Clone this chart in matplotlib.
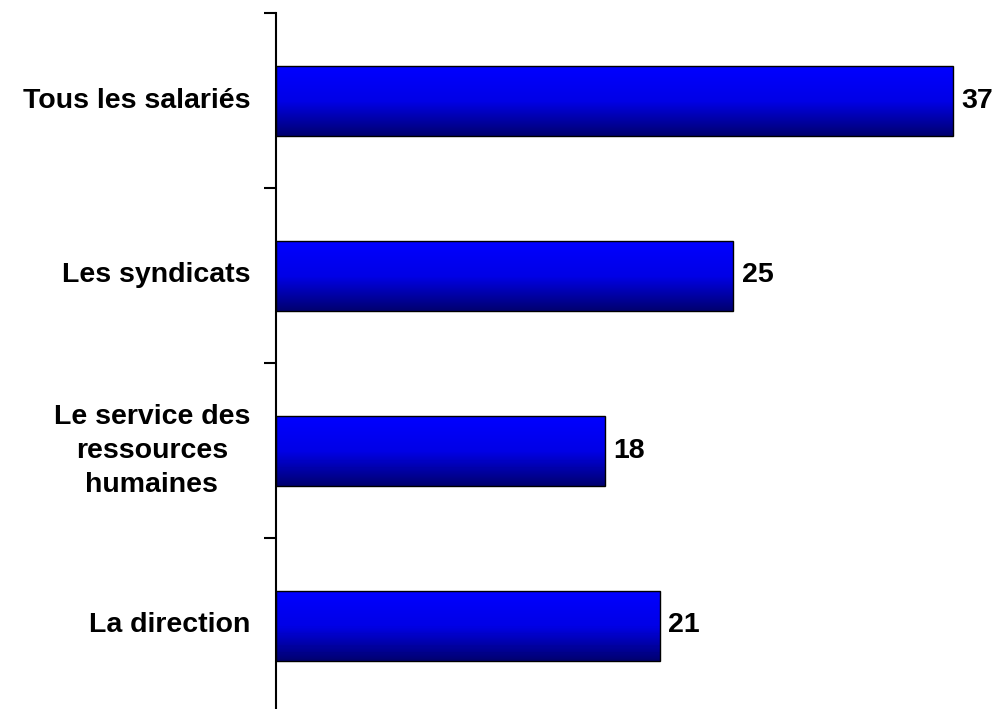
import matplotlib
matplotlib.use("Agg")
import matplotlib.pyplot as plt
import numpy as np
from matplotlib.colors import LinearSegmentedColormap

categories = ["Tous les salariés", "Les syndicats", "Le service des\nressources\nhumaines", "La direction"]
values = [37, 25, 18, 21]

plt.rcParams["font.family"] = ["Liberation Sans", "DejaVu Sans"]

W, H = 996, 709
fig = plt.figure(figsize=(W / 100, H / 100), dpi=100)
ax = fig.add_axes([276 / W, -4 / H, 720 / W, 700 / H])

# vertical gradient: bright blue on top, navy at the bottom
cmap = LinearSegmentedColormap.from_list("bar", ["#0000ff", "#0000e6", "#000070"])
n_strips = 70

ypos = np.arange(len(categories))
bar_h = 0.4
for y, v in zip(ypos, values):
    y0 = y - bar_h / 2
    for i in range(n_strips):
        ax.barh(y0 + i * bar_h / n_strips, v, height=bar_h / n_strips * 1.05, align="edge",
                color=cmap(i / (n_strips - 1)), linewidth=0, antialiased=False, zorder=2)
    ax.text(v + 0.45, y, str(v), va="center", ha="left", fontsize=20.5, fontweight="bold")

ax.barh(ypos, values, height=bar_h, color="none", edgecolor="black", linewidth=1, zorder=3)

ax.set_xlim(0, 720 / (677 / 37))
ax.set_ylim(3.5, -0.5)

for s in ["top", "right", "bottom"]:
    ax.spines[s].set_visible(False)
ax.spines["left"].set_linewidth(1.5)
ax.spines["left"].set_zorder(4)
ax.set_xticks([])
ax.set_yticks([])
ax.set_yticks(np.arange(-0.5, 4.0, 1.0), minor=True)
ax.tick_params(axis="y", which="minor", direction="out", length=9, width=1.5)

for y, label in zip(ypos, categories):
    ax.text(-26 / 720, y, label, transform=ax.get_yaxis_transform(), ha="right", va="center",
            multialignment="center", fontsize=20.5, fontweight="bold", linespacing=1.4)

fig.savefig("out.png", dpi=100)
